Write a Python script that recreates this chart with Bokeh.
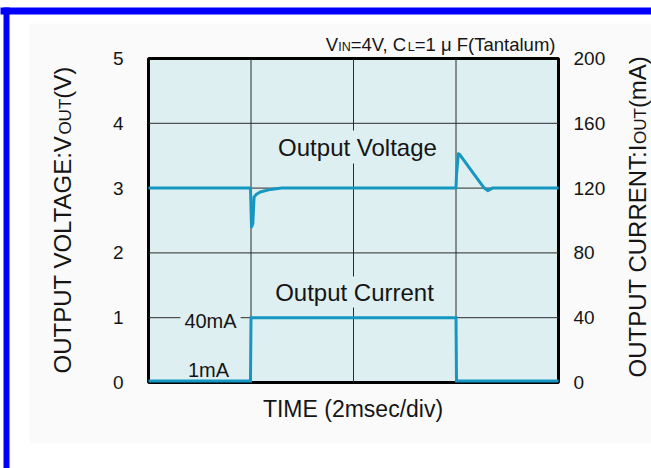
import math
from bokeh.plotting import figure
from bokeh.models import Range1d, LinearAxis, FixedTicker, Label, BoxAnnotation
from bokeh.embed import file_html
from bokeh.resources import INLINE

# ---------------- data ----------------
time_v = [0.0, 1.99, 2.01, 2.035, 2.06, 2.10, 2.18, 2.38, 2.60, 6.00, 6.01, 6.045, 6.07, 6.30, 6.54, 6.62, 6.71, 8.0]
vout = [3.0, 3.0, 2.40, 2.45, 2.86, 2.90, 2.94, 2.98, 3.0, 3.0, 3.20, 3.53, 3.52, 3.27, 3.01, 2.96, 3.0, 3.0]
time_i = [0.0, 1.99, 2.00, 6.00, 6.01, 8.0]
iout = [1, 1, 40, 40, 1, 1]
v_ticks = [0, 1, 2, 3, 4, 5]
i_ticks = [0, 40, 80, 120, 160, 200]
t_grid = [2, 4, 6]
v_grid = [1, 2, 3, 4]

# ---------------- geometry ----------------
W, H = 651, 468
FL, FR, FT, FB = 148, 558, 58, 382          # plot area in canvas pixels
X0, X1 = 0, 8                                # time range (ms)
Y0, Y1 = v_ticks[0], v_ticks[-1]             # voltage range
I0, I1 = i_ticks[0], i_ticks[-1]             # current range
FONT = "Liberation Sans"
TRACE = "#1597c2"
PLOT_BG = "#ddeff0"
INK = "#151515"


def dx(px):
    return X0 + (px - FL) * (X1 - X0) / (FR - FL)


def dy(py):
    return Y0 + (FB - py) * (Y1 - Y0) / (FB - FT)


AW = {' ': 278, '(': 333, ')': 333, ':': 278, ',': 278, '=': 584, '/': 278,
      'A': 667, 'C': 722, 'E': 667, 'F': 611, 'G': 778, 'I': 278, 'L': 556,
      'N': 722, 'O': 778, 'P': 667, 'R': 722, 'T': 611, 'U': 722, 'V': 667,
      'a': 556, 'l': 222, 'm': 833, 'n': 556, 't': 278, 'u': 556, 'μ': 576}
for d in "0123456789":
    AW[d] = 556


def tw(s, size):
    return sum(AW.get(c, 556) for c in s) / 1000.0 * size


CAP = 0.716

k = (I1 - I0) / (Y1 - Y0)
p = figure(width=W, height=H,
           x_range=Range1d(dx(0), dx(W)), y_range=Range1d(dy(H), dy(0)),
           x_axis_location=None, y_axis_location=None,
           output_backend="svg", toolbar_location=None,
           min_border=0)
p.extra_y_ranges = {"cur": Range1d(I0 + dy(H) * k, I0 + dy(0) * k)}
p.outline_line_color = None
p.background_fill_color = "#fafafa"
p.border_fill_color = "#fafafa"
p.grid.visible = False

# page panel / blue border
for l, r, t, b, c in ((-10, 29, 470, -10, "white"), (-10, 660, 23, -10, "white"),
                      (-10, 660, 470, 443, "white"),
                      (3, 9, 7, 470, "#0000ff"), (-10, 660, 7, 14, "#0000ff")):
    p.add_layout(BoxAnnotation(left=dx(l), right=dx(r), top=dy(t), bottom=dy(b),
                               fill_color=c, fill_alpha=1, line_color=None, level="underlay"))

# plot area
p.add_layout(BoxAnnotation(left=X0, right=X1, bottom=Y0, top=Y1, fill_color=PLOT_BG, fill_alpha=1,
                           line_color="black", line_width=3, line_alpha=1, level="underlay"))

# grid lines
p.segment(x0=t_grid, y0=[Y0] * len(t_grid), x1=t_grid, y1=[Y1] * len(t_grid),
          line_color="#2a2a2a", line_width=1)
p.segment(x0=[X0] * len(v_grid), y0=v_grid, x1=[X1] * len(v_grid), y1=v_grid,
          line_color="#2a2a2a", line_width=1)

# axes (placed on the plot-area edges)
ax_l = LinearAxis(ticker=FixedTicker(ticks=v_ticks), fixed_location=X0)
ax_r = LinearAxis(y_range_name="cur", ticker=FixedTicker(ticks=i_ticks), fixed_location=X1)
p.add_layout(ax_l, "left")
p.add_layout(ax_r, "right")
for ax, so in ((ax_l, 19), (ax_r, 9)):
    ax.axis_line_color = None
    ax.major_tick_line_color = None
    ax.minor_tick_line_color = None
    ax.major_label_text_font = FONT
    ax.major_label_text_font_size = "19px"
    ax.major_label_text_color = INK
    ax.major_label_standoff = so

# traces
p.line(time_v, vout, line_color=TRACE, line_width=3, line_join="round")
p.line(time_i, iout, line_color=TRACE, line_width=3, line_join="miter", y_range_name="cur")


def lab(text, px, py, size, align="left", angle=0.0, bg=None, pad=0):
    """px, py: canvas position of the text's start (or centre) and its cap-height middle."""
    kw = {}
    if bg is not None:
        kw = dict(background_fill_color=bg, background_fill_alpha=1, padding=pad)
    p.add_layout(Label(x=dx(px), y=dy(py), text=text, text_font=FONT,
                       text_font_size=f"{size}px", text_color=INK, text_align=align,
                       text_baseline="middle", angle=angle, **kw))


# in-plot annotations
lab("Output Voltage", 357, 146.5, 24, align="center", bg=PLOT_BG, pad=3)
lab("Output Current", 354, 291.5, 24, align="center", bg=PLOT_BG, pad=2)
lab("40mA", 210, 320, 20, align="center", bg=PLOT_BG, pad=4)
lab("1mA", 208, 369.5, 20, align="center")

# x title
lab("TIME (2msec/div)", 352.5, 408, 23, align="center")

# title with small-cap subscripts (right aligned to the plot area, common baseline)
t_runs = [("V", 18.5), ("IN", 12.5), ("=4V, C", 18.5), ("L", 12.5), ("=1 μ F(Tantalum)", 18.5)]
base = 50.5
total = sum(tw(s, sz) for s, sz in t_runs)
cx = FR - 1 - total
for s, sz in t_runs:
    lab(s, cx, base - CAP * sz / 2, sz)
    cx += tw(s, sz)


# rotated axis titles (reading bottom to top, common baseline)
def vlab(runs, base_x, py0):
    cy = py0
    prev = None
    for s, sz in runs:
        if prev is not None and sz < prev:
            cy += 2.5          # tighten the join before a small-cap run
        lab(s, base_x - CAP * sz / 2, cy, sz, angle=math.pi / 2)
        cy -= tw(s, sz)
        prev = sz


vlab([("OUTPUT VOLTAGE:V", 24), ("OUT", 17), ("(V)", 24)], 62 + CAP * 24 / 2, 373)
vlab([("OUTPUT CURRENT:I", 24), ("OUT", 17), ("(mA)", 24)], 637 + CAP * 24 / 2, 377)

open("out.html", "w").write(file_html(p, INLINE))
